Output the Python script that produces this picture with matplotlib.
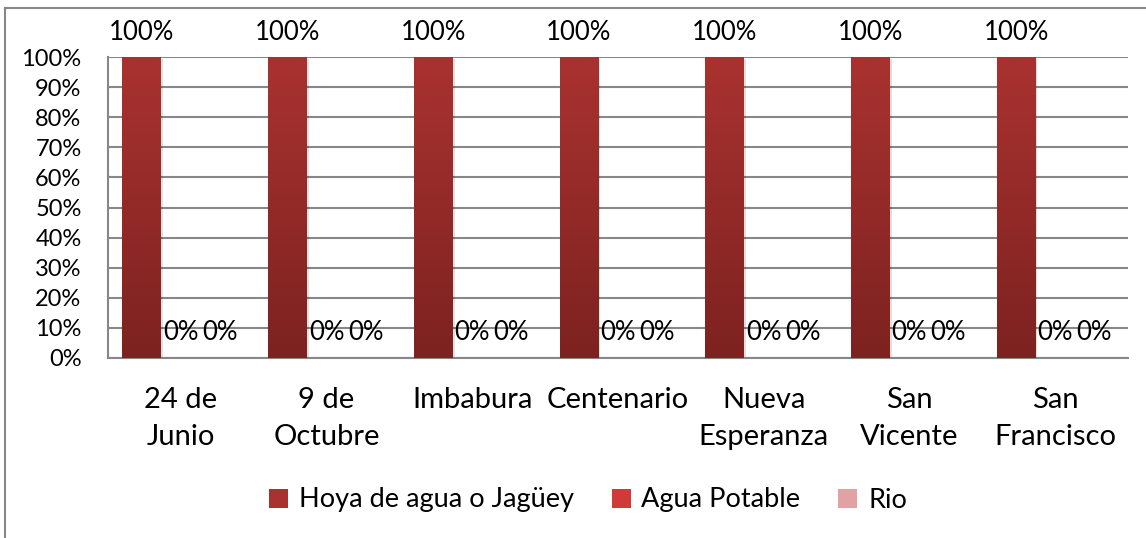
import matplotlib
matplotlib.use("Agg")
import matplotlib.pyplot as plt
import numpy as np
from matplotlib.patches import Rectangle
from matplotlib.lines import Line2D
from matplotlib.colors import LinearSegmentedColormap

categories = ["24 de\nJunio", "9 de\nOctubre", "Imbabura", "Centenario",
              "Nueva\nEsperanza", "San\nVicente", "San\nFrancisco"]
series_names = ["Hoya de agua o Jagüey", "Agua Potable", "Rio"]
hoya = [100, 100, 100, 100, 100, 100, 100]
potable = [0, 0, 0, 0, 0, 0, 0]
rio = [0, 0, 0, 0, 0, 0, 0]
yticks = [0, 10, 20, 30, 40, 50, 60, 70, 80, 90, 100]

top_cols = ["#a93230", "#cf3b38", "#e0a2a2"]
bot_cols = ["#7d2220", "#a02a28", "#b07a7a"]

plt.rcParams['font.family'] = ['Lato', 'DejaVu Sans']

W, H = 1146, 538
fig = plt.figure(figsize=(W / 100, H / 100), dpi=100)
ax = fig.add_axes([108 / W, 1 - 358 / H, (1128 - 108) / W, (358 - 57) / H])

n = len(categories)
x = np.arange(n)
bw = 1 / 3.74
data = [hoya, potable, rio]
offsets = [-bw, 0, bw]

ax.set_xlim(-0.5, n - 0.5)
ax.set_ylim(0, 100)

grad = np.linspace(0, 1, 256).reshape(-1, 1)
for s, (vals, off) in enumerate(zip(data, offsets)):
    cmap = LinearSegmentedColormap.from_list("g%d" % s, [bot_cols[s], top_cols[s]])
    for xi, v in zip(x, vals):
        x0 = xi + off - bw / 2
        if v > 0:
            ax.add_patch(Rectangle((x0 + 0.012, -0.6), bw, v, facecolor="#000000",
                                   alpha=0.12, edgecolor="none", zorder=2.5))
            ax.imshow(grad, extent=(x0, x0 + bw, 0, v), origin="lower", cmap=cmap,
                      aspect="auto", zorder=3)
        ax.annotate("%d%%" % v, (xi + off, v), xytext=(0, 18), textcoords="offset points",
                    ha="center", va="center", fontsize=18.5, color="#000000",
                    zorder=5, annotation_clip=False)

ax.set_xlim(-0.5, n - 0.5)
ax.set_ylim(0, 100)
ax.set_yticks(yticks)
ax.set_yticklabels(["%d%%" % t for t in yticks], fontsize=17)
ax.set_xticks(x)
ax.set_xticklabels(categories, fontsize=21, linespacing=1.5)
ax.tick_params(axis="x", length=0, pad=21)
ax.tick_params(axis="y", length=0, pad=19)
ax.yaxis.grid(True, color="#878787", linewidth=1.5, zorder=1)
ax.set_axisbelow(True)
for sp in ["top", "right"]:
    ax.spines[sp].set_visible(False)
for sp in ["left", "bottom"]:
    ax.spines[sp].set_color("#878787")
    ax.spines[sp].set_linewidth(1.5)

handles = [Rectangle((0, 0), 1, 1, facecolor=c, edgecolor="none") for c in top_cols]
leg = fig.legend(handles, series_names, loc="center", bbox_to_anchor=(588 / W, 1 - 500 / H),
                 ncol=3, frameon=False, fontsize=19.5, handlelength=0.7, handleheight=0.7,
                 handletextpad=0.4, columnspacing=1.4)

fig.add_artist(Line2D([5 / W, 1], [1 - 8 / H, 1 - 8 / H], transform=fig.transFigure,
                      color="#878787", linewidth=1.5))
fig.add_artist(Line2D([5 / W, 5 / W], [0, 1 - 8 / H], transform=fig.transFigure,
                      color="#878787", linewidth=1.5))

fig.savefig("out.png", dpi=100)
